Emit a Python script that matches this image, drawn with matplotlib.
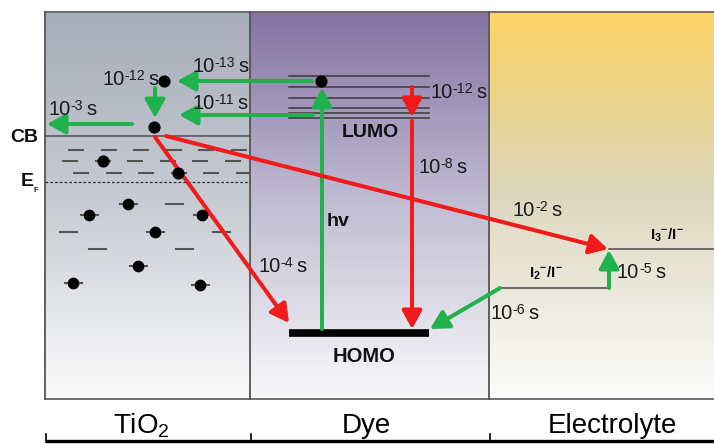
import numpy as np
import matplotlib
matplotlib.use('Agg')
import matplotlib.pyplot as plt
from matplotlib.colors import to_rgb

plt.rcParams['font.family'] = ['Liberation Sans', 'DejaVu Sans']

# panels: name, left, right, gradient stops (fraction from top, colour)
panel_names = ['TiO$_\\mathregular{2}$', 'Dye', 'Electrolyte']
panel_edges = [45, 250, 489, 714]
panel_label_x = [141, 366, 612]
panel_stops = [
    [(0.0, '#a7acb9'), (0.5, '#c9ccd4'), (1.0, '#fbfbfb')],
    [(0.0, '#8573a2'), (0.3, '#a89fc0'), (0.5, '#c2bed3'), (1.0, '#f8f8fa')],
    [(0.0, '#fdd466'), (0.25, '#e9d38f'), (0.48, '#ddd8bf'), (1.0, '#fcfcfc')],
]
box_top, box_bottom = 12, 399

# energy levels
cb_y = 136
ef_y = 182
lumo_levels = [76, 87, 98, 108, 113, 118]
lumo_x = (289, 429)
homo_y = 333
homo_x = (289, 429)
i2_level = (500, 609, 288)
i3_level = (609, 714, 249)

# shallow trap rows (y, first dash start)
trap_rows_y = [150, 161, 173]
trap_rows_x0 = [68, 62, 73]
# deep trap states below EF
deep_x = [174, 68, 97, 184, 221, 128, 89, 202, 155, 138, 73, 200]
deep_y = [204, 232, 249, 249, 232, 204, 215, 215, 232, 266, 283, 285]
deep_filled = [0, 0, 0, 0, 0, 1, 1, 1, 1, 1, 1, 1]
# electrons on shallow traps / levels
dot_x = [103, 178, 154, 164, 321]
dot_y = [161, 173, 127, 81, 81]

green = '#20b24c'
red = '#f21a1a'
# arrows: (x0, y0, x1, y1)
green_arrows = [(312, 81, 177, 81), (313, 115, 179, 115), (155, 88, 155, 118),
                (132, 124, 47, 124), (322, 329, 322, 88), (609, 288, 609, 250),
                (500, 288, 430, 329)]
red_arrows = [(412, 87, 412, 117), (412, 121, 412, 329),
              (155, 137, 289, 323), (166, 136, 608, 249)]

# time constants: exponent, left x, baseline y
time_exp = ['-13', '-11', '-12', '-3', '-12', '-8', '-4', '-2', '-5', '-6']
time_x = [192, 192, 102, 48, 430, 418, 258, 513, 617, 490]
time_y = [72, 109, 85, 115, 98, 173, 272, 216, 278, 319]


def gradient(stops, n=256):
    pos = np.array([s[0] for s in stops])
    cols = np.array([to_rgb(s[1]) for s in stops])
    t = np.linspace(0, 1, n)
    img = np.stack([np.interp(t, pos, cols[:, k]) for k in range(3)], axis=-1)
    return img[:, None, :]


fig = plt.figure(figsize=(7.14, 4.44), dpi=100)
ax = fig.add_axes([0, 0, 1, 1])
ax.set_xlim(0, 714)
ax.set_ylim(444, 0)
ax.axis('off')

for i, stops in enumerate(panel_stops):
    ax.imshow(gradient(stops), extent=(panel_edges[i], panel_edges[i + 1], box_bottom, box_top),
              aspect='auto', interpolation='bilinear', zorder=0)
    ax.text(panel_label_x[i], 433, panel_names[i], fontsize=20, ha='center', va='baseline')

# frame
ax.plot([45, 714], [box_top, box_top], color='#666666', lw=1.3, zorder=1)
ax.plot([45, 714], [box_bottom, box_bottom], color='#666666', lw=1.3, zorder=1)
for xe in panel_edges[:3]:
    ax.plot([xe, xe], [box_top, box_bottom], color='#555555', lw=1.3, zorder=1)

# bottom axis
ax.plot([45, 714], [441, 441], color='black', lw=2.4, solid_capstyle='butt')
for xe in panel_edges[:3]:
    ax.plot([xe + 1, xe + 1], [441, 434], color='black', lw=1.2)

# CB and EF
ax.plot([45, 250], [cb_y, cb_y], color='#505050', lw=1.1, zorder=2)
ax.plot([45, 250], [ef_y, ef_y], color='#333333', lw=0.9, dashes=(2.2, 1.6), zorder=2)
for y, x0 in zip(trap_rows_y, trap_rows_x0):
    starts = np.arange(x0, 248, 32.5)
    ax.hlines(np.full(len(starts), y), starts, np.minimum(starts + 16, 249),
              color='#555555', lw=1.5, zorder=2)
for x, y, f in zip(deep_x, deep_y, deep_filled):
    ax.plot([x - 8.5, x + 8.5], [y, y], color='#555555', lw=1.5, zorder=2)
ax.scatter([x for x, f in zip(deep_x, deep_filled) if f],
           [y for y, f in zip(deep_y, deep_filled) if f], s=55, color='black', zorder=5)

# dye levels
for y in lumo_levels:
    ax.plot(lumo_x, [y, y], color='#3a3a3a', lw=1.1, zorder=2)
ax.plot(homo_x, [homo_y, homo_y], color='black', lw=5.5, solid_capstyle='butt', zorder=3)

# electrolyte levels
ax.plot(i2_level[:2], [i2_level[2]] * 2, color='#4a4a4a', lw=1.1, zorder=2)
ax.plot(i3_level[:2], [i3_level[2]] * 2, color='#4a4a4a', lw=1.1, zorder=2)

ax.scatter(dot_x, dot_y, s=60, color='black', zorder=5)

for arrows, col in ((green_arrows, green), (red_arrows, red)):
    for x0, y0, x1, y1 in arrows:
        ax.annotate('', xy=(x1, y1), xytext=(x0, y0),
                    arrowprops=dict(arrowstyle='-|>,head_length=0.55,head_width=0.3',
                                    mutation_scale=20, lw=2.9, color=col,
                                    shrinkA=0, shrinkB=0), zorder=4)

# time labels: "10", raised exponent with a plain hyphen, then "s"
fs = 14.5
for e, x, y in zip(time_exp, time_x, time_y):
    t1 = ax.text(x, y, '10', fontsize=fs, ha='left', va='baseline', color='#1a1a1a', zorder=6)
    t2 = ax.annotate(e, xy=(1, 1), xycoords=t1, xytext=(0, 0.8), textcoords='offset points',
                     fontsize=fs * 0.7, ha='left', va='top', color='#1a1a1a', zorder=6)
    ax.annotate('s', xy=(1, 0), xycoords=(t2, t1), xytext=(2.6, 0), textcoords='offset points',
                fontsize=fs, ha='left', va='bottom', color='#1a1a1a', zorder=6)

bold = dict(fontweight='bold', va='baseline', color='#111111', zorder=6)
ax.text(10, 142, 'CB', fontsize=14, ha='left', **bold)
ax.text(21, 186, 'E', fontsize=14, ha='left', **bold)
ax.text(34, 192, 'F', fontsize=5.5, ha='left', **bold)
ax.text(342, 137, 'LUMO', fontsize=14, ha='left', **bold)
ax.text(364, 362, 'HOMO', fontsize=14.5, ha='center', **bold)
ax.text(327, 226, 'hv', fontsize=14, ha='left', **bold)
ax.text(546, 278, '$\\mathregular{I_2{}^{-}/I^{-}}$', fontsize=11, ha='center', **bold)
ax.text(667, 240, '$\\mathregular{I_3{}^{-}/I^{-}}$', fontsize=11, ha='center', **bold)

fig.savefig('out.png', dpi=100)
